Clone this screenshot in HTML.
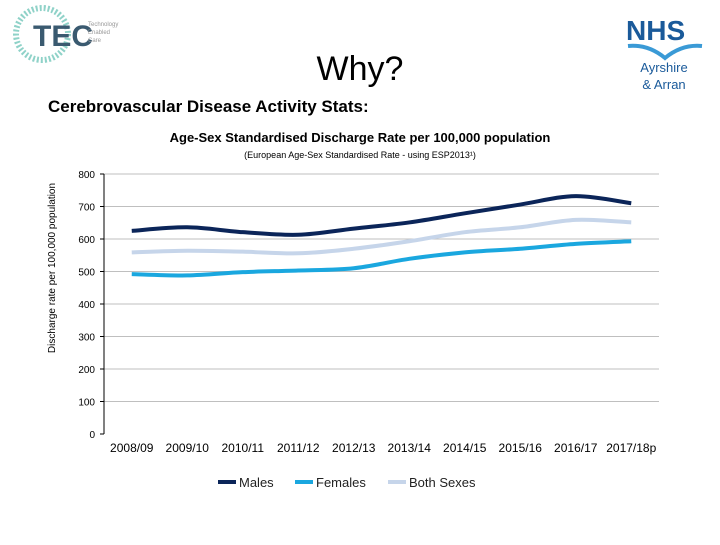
<!DOCTYPE html>
<html><head><meta charset="utf-8"><style>
body{margin:0;width:720px;height:540px;background:#fff;overflow:hidden;font-family:"Liberation Sans",sans-serif;}
</style></head><body>
<svg width="720" height="540" viewBox="0 0 720 540" xmlns="http://www.w3.org/2000/svg">
<g>
<circle cx="42" cy="34" r="26" fill="none" stroke="#5fbfb0" stroke-width="6" stroke-dasharray="2 2" opacity="0.7"/>
<text x="33" y="46" font-family="Liberation Sans" font-size="30" font-weight="bold" fill="#3a5a70">TEC</text>
<text x="88" y="26" font-size="6" fill="#999">Technology</text>
<text x="88" y="34" font-size="6" fill="#999">Enabled</text>
<text x="88" y="42" font-size="6" fill="#999">Care</text>
</g>
<g>
<text x="626" y="40" font-size="28" font-weight="bold" fill="#1a5a9a">NHS</text>
<path d="M628 46 q20 -2 37 12 q17 -14 37 -12" fill="none" stroke="#3a9ad6" stroke-width="4"/>
<text x="664" y="72" font-size="13" fill="#1a5a9a" text-anchor="middle">Ayrshire</text>
<text x="664" y="89" font-size="13" fill="#1a5a9a" text-anchor="middle">&amp; Arran</text>
</g>
<text x="360" y="80" font-size="34" text-anchor="middle" fill="#000">Why?</text>
<text x="48" y="112" font-size="17" font-weight="bold" fill="#000">Cerebrovascular Disease Activity Stats:</text>
<text x="360" y="142" font-size="13" font-weight="bold" text-anchor="middle">Age-Sex Standardised Discharge Rate per 100,000 population</text>
<text x="360" y="158" font-size="9" text-anchor="middle">(European Age-Sex Standardised Rate - using ESP2013¹)</text>
<text transform="translate(55,268) rotate(-90)" font-size="10" text-anchor="middle">Discharge rate per 100,000 population</text>
<g id="chart"></g>
</svg>
<script>
const categories=["2008/09","2009/10","2010/11","2011/12","2012/13","2013/14","2014/15","2015/16","2016/17","2017/18p"];
const males=[625,636,621,613,632,651,679,706,732,710];
const females=[492,488,498,503,510,539,559,570,585,593];
const both=[559,564,561,556,570,593,621,636,659,651];
const yTicks=[0,100,200,300,400,500,600,700,800];
const NS="http://www.w3.org/2000/svg";
const g=document.getElementById('chart');
const x0=104,x1=659,y0=434,y1=174;
const xs=i=>x0+(x1-x0)/categories.length*(i+0.5);
const ys=v=>y0-(v/800)*(y0-y1);
function mk(t,a){const e=document.createElementNS(NS,t);for(const k in a)e.setAttribute(k,a[k]);g.appendChild(e);return e;}
yTicks.forEach(v=>{
 if(v>0){const l=mk('line',{x1:x0,x2:x1,y1:ys(v),y2:ys(v),stroke:'#bfbfbf','stroke-width':1});
 
 }
 const tk=mk('line',{x1:x0-4,x2:x0,y1:ys(v),y2:ys(v),stroke:'#000'});
 
 
 const t=mk('text',{x:x0-9,y:ys(v)+4,'font-size':10,'text-anchor':'end'});t.textContent=v;
 
 
});
const ax=mk('line',{x1:x0,x2:x0,y1:y1,y2:y0,stroke:'#000'});


categories.forEach((c,i)=>{const t=mk('text',{x:xs(i),y:452,'font-size':12,'text-anchor':'middle'});t.textContent=c;
 
 });
function path(arr){let d='';const p=arr.map((v,i)=>[xs(i),ys(v)]);
 d='M'+p[0][0]+' '+p[0][1];
 for(let i=1;i<p.length;i++){const a=p[i-1],b=p[i],pa=p[i-2]||a,pb=p[i+1]||b;
 const c1=[a[0]+(b[0]-pa[0])/6,a[1]+(b[1]-pa[1])/6],c2=[b[0]-(pb[0]-a[0])/6,b[1]-(pb[1]-a[1])/6];
 d+=` C${c1[0]} ${c1[1]} ${c2[0]} ${c2[1]} ${b[0]} ${b[1]}`;}return d;}
[[both,'#c6d5ea','both-sexes-line'],[females,'#1aa7df','females-line'],[males,'#0b2559','males-line']].forEach(([arr,col,n])=>{
 const p=mk('path',{d:path(arr),fill:'none',stroke:col,'stroke-width':4});
 
 
});
const leg=[['Males','#0b2559',218],['Females','#1aa7df',295],['Both Sexes','#c6d5ea',388]];
leg.forEach(([n,c,x])=>{
 const l=mk('line',{x1:x,x2:x+18,y1:482,y2:482,stroke:c,'stroke-width':4});
 
 
 const t=mk('text',{x:x+21,y:487,'font-size':13,fill:'#222'});t.textContent=n;
 
 
});
</script>
</body></html>
